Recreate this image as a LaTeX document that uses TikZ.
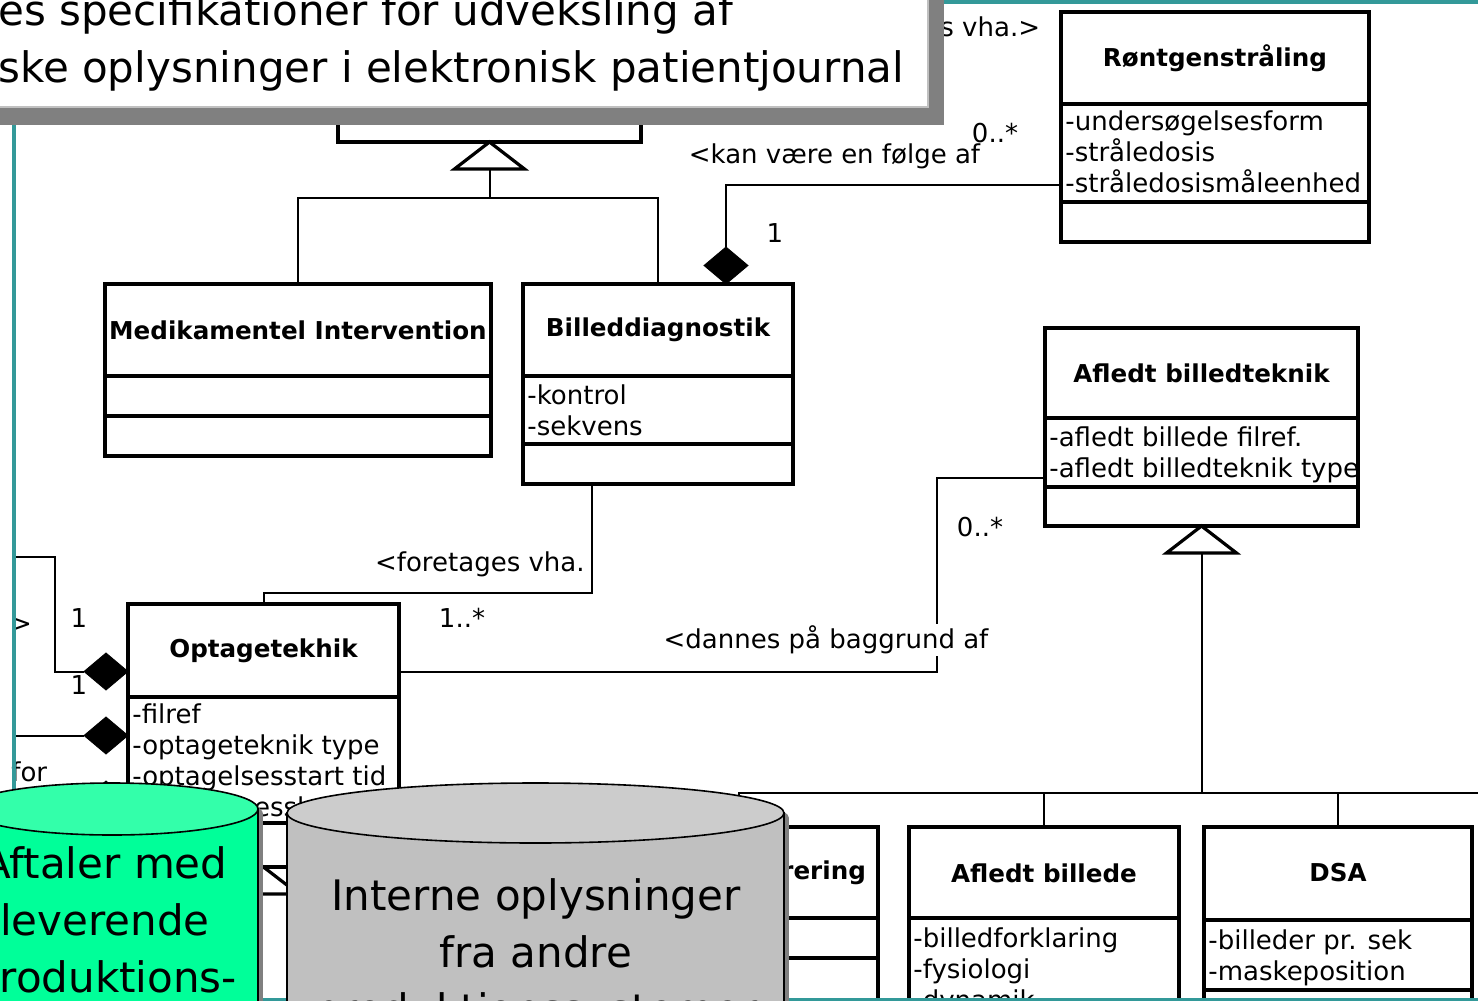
\documentclass[tikz,border=0pt]{standalone}
\usepackage{fontspec}
\setmainfont{DejaVu Sans}
\usetikzlibrary{shapes.geometric}
\definecolor{kant}{RGB}{51,153,153}
\definecolor{dbgroen}{RGB}{0,255,153}
\definecolor{dbgroentop}{RGB}{51,255,170}
\definecolor{dbgraa}{RGB}{192,192,192}
\definecolor{dbgraatop}{RGB}{204,204,204}
\definecolor{skygge}{RGB}{128,128,128}

\tikzset{
  klasse/.style={draw, line width=1.6pt, anchor=north west, inner sep=0pt, outer sep=0pt, fill=white},
  skille/.style={line width=1.6pt},
  navn/.style={font=\bfseries\fontsize{12.3}{14}\selectfont},
  attr/.style={anchor=north west, inner sep=0pt, align=left, font=\fontsize{13}{15.5}\selectfont},
  rolle/.style={font=\fontsize{13}{15}\selectfont, inner sep=1pt},
  forb/.style={line width=1pt},
  arv/.style={line width=1.6pt, fill=white, line join=miter},
  komp/.style={diamond, fill=black, draw=black, inner sep=0pt, outer sep=0pt, minimum width=22pt, minimum height=18.5pt},
  stor/.style={font=\fontsize{21}{28.5}\selectfont, inner sep=0pt},
}

\begin{document}
\begin{tikzpicture}[x=0.5pt, y=-0.5pt]
%\draw[help lines, color=gray!30] (0,0) grid[step=50] (1478,1001);
\useasboundingbox (0,0) rectangle (1478,1001);

% klasser
\node[klasse, minimum width=151.5pt, minimum height=101pt] (top) at (338,-60) {};
\node[klasse, minimum width=193pt, minimum height=86pt] (medik) at (105,284) {};
\draw[skille] ([yshift=-46pt]medik.north west) -- ([yshift=-46pt]medik.north east);
\draw[skille] ([yshift=-66pt]medik.north west) -- ([yshift=-66pt]medik.north east);
\node[navn] (medik-navn) at ([yshift=-23pt]medik.north) {Medikamentel Intervention};

\node[klasse, minimum width=135pt, minimum height=100pt] (billed) at (523,284) {};
\draw[skille] ([yshift=-46pt]billed.north west) -- ([yshift=-46pt]billed.north east);
\draw[skille] ([yshift=-80pt]billed.north west) -- ([yshift=-80pt]billed.north east);
\node[navn] (billed-navn) at ([yshift=-23pt]billed.north) {Billeddiagnostik};
\node[attr] (billed-attr) at ([xshift=2pt, yshift=-50pt]billed.north west) {-kontrol\\-sekvens};

\node[klasse, minimum width=154pt, minimum height=115pt] (rtg) at (1061,12) {};
\draw[skille] ([yshift=-46pt]rtg.north west) -- ([yshift=-46pt]rtg.north east);
\draw[skille] ([yshift=-95pt]rtg.north west) -- ([yshift=-95pt]rtg.north east);
\node[navn] (rtg-navn) at ([yshift=-23pt]rtg.north) {Røntgenstråling};
\node[attr] (rtg-attr) at ([xshift=2pt, yshift=-49pt]rtg.north west) {-undersøgelsesform\\-stråledosis\\-stråledosismåleenhed};

\node[klasse, minimum width=156.5pt, minimum height=99pt] (afltek) at (1045,328) {};
\draw[skille] ([yshift=-45pt]afltek.north west) -- ([yshift=-45pt]afltek.north east);
\draw[skille] ([yshift=-79.5pt]afltek.north west) -- ([yshift=-79.5pt]afltek.north east);
\node[navn] (afltek-navn) at ([yshift=-22.5pt]afltek.north) {Afledt billedteknik};
\node[attr] (afltek-attr) at ([xshift=2pt, yshift=-49pt]afltek.north west) {-afledt billede filref.\\-afledt billedteknik type};

\node[klasse, minimum width=135.5pt, minimum height=131.5pt] (optag) at (128,604) {};
\draw[skille] ([yshift=-46.5pt]optag.north west) -- ([yshift=-46.5pt]optag.north east);
\draw[skille] ([yshift=-109.5pt]optag.north west) -- ([yshift=-109.5pt]optag.north east);
\node[navn] (optag-navn) at ([yshift=-23.25pt]optag.north) {Optagetekhik};
\node[attr] (optag-attr) at ([xshift=2pt, yshift=-49.5pt]optag.north west) {-filref\\-optageteknik type\\-optagelsesstart tid\\-optagelsesslut tid};

\node[klasse, minimum width=139pt, minimum height=116.5pt] (rering) at (600,827) {};
\draw[skille] ([yshift=-45.5pt]rering.north west) -- ([yshift=-45.5pt]rering.north east);
\draw[skille] ([yshift=-65.5pt]rering.north west) -- ([yshift=-65.5pt]rering.north east);
\node[navn, anchor=east] (rering-navn) at ([xshift=-2.5pt, yshift=-23pt]rering.north east) {rering};

\node[klasse, minimum width=135pt, minimum height=116.5pt] (aflbil) at (909,827) {};
\draw[skille] ([yshift=-45.5pt]aflbil.north west) -- ([yshift=-45.5pt]aflbil.north east);
\node[navn] (aflbil-navn) at ([yshift=-23pt]aflbil.north) {Afledt billede};
\node[attr] (aflbil-attr) at ([xshift=2pt, yshift=-50pt]aflbil.north west) {-billedforklaring\\-fysiologi\\-dynamik};

\node[klasse, minimum width=134pt, minimum height=116.5pt] (dsa) at (1204,827) {};
\draw[skille] ([yshift=-46.5pt]dsa.north west) -- ([yshift=-46.5pt]dsa.north east);
\draw[skille] ([yshift=-81.5pt]dsa.north west) -- ([yshift=-81.5pt]dsa.north east);
\node[navn] (dsa-navn) at ([yshift=-23pt]dsa.north) {DSA};
\node[attr] (dsa-attr) at ([xshift=2pt, yshift=-51pt]dsa.north west) {-billeder pr. sek\\-maskeposition};

% generalisering
\draw[arv] (top.south) -- ++(-35,27) -- ++(70,0) -- cycle;
\coordinate (g1) at ([yshift=-13.5pt]top.south);
\draw[forb] (g1) -- ++(0,29) -| (medik.north);
\draw[forb] (g1) -- ++(0,29) -| (billed.north);

\draw[arv] (afltek.south) -- ++(-35,27) -- ++(70,0) -- cycle;
\coordinate (g2) at ([yshift=-13.5pt]afltek.south);
\draw[forb] (g2) -- ++(0,240) coordinate (bus);
\draw[forb] (bus) -| (aflbil.north);
\draw[forb] (bus) -| (dsa.north);
\draw[forb] (bus) -| (rering.north);
\draw[forb] (bus) -- ++(300,0);

\draw[arv] (optag.south) -- ++(-35,27) -- ++(70,0) -- cycle;

% associationer
\node[komp, anchor=south] (dia1) at ([xshift=34pt]billed.north) {};
\draw[forb] ([yshift=-29pt]rtg.west) -| (dia1.north);
\node[rolle] (l1) at (995,133) {0..*};
\node[rolle] (l2) at (834.5,156) {<kan være en følge af};
\node[rolle] (l3) at (775,233) {1};
\node[rolle, anchor=west] (l4) at (938,27) {s vha.>};

\draw[forb] ([xshift=-33pt]billed.south) -- ++(0,109) -| (optag.north);
\node[rolle, anchor=east] (l5) at (587,564) {<foretages vha.};
\node[rolle] (l6) at (462,618) {1..*};

\draw[forb] ([yshift=32pt]optag.east) -| ([xshift=-54pt, yshift=-25.5pt]afltek.west) -- ([yshift=-25.5pt]afltek.west);
\node[rolle, fill=white] (l7) at (826,640) {<dannes på baggrund af};
\node[rolle] (l8) at (980,527) {0..*};

\node[komp, anchor=east] (dia2) at ([yshift=32pt]optag.west) {};
\node[komp, anchor=east] (dia3) at (optag.west) {};
\node[komp, anchor=east] (dia4) at ([yshift=-32pt]optag.west) {};
\coordinate (v1) at (13.5,557);
\coordinate (v2) at (13.5,735.5);
\coordinate (v3) at (13.5,799.5);
\draw[forb] (v1) -- ++(41,0) |- (dia2.west);
\draw[forb] (v2) -- (dia3.west);
\draw[forb] (v3) -- (dia4.west);
\node[rolle] (l9) at (21,625) {>};
\node[rolle] (l10) at (79,618) {1};
\node[rolle] (l11) at (79,685) {1};
\node[rolle, anchor=west] (l12) at (9,772) {for};

% ramme
\draw[kant, line width=2pt] (13.5,2) rectangle (1520,999.5);

% databaser
\fill[skygge] (-29,814) rectangle (263,1100);
\fill[skygge] (117,814) ellipse [x radius=73pt, y radius=13pt];
\filldraw[fill=dbgroen, line width=0.8pt] (-34,809) rectangle (258,1100);
\filldraw[fill=dbgroentop, line width=0.8pt] (112,809) ellipse [x radius=73pt, y radius=13pt];
\node[stor, align=center, anchor=north] (aftaler) at (105,846) {Aftaler med\\leverende\\produktions-};

\fill[skygge] (292,818) rectangle (789,1100);
\fill[skygge] (540.5,818) ellipse [x radius=124.25pt, y radius=15pt];
\filldraw[fill=dbgraa, line width=0.8pt] (287,813) rectangle (784,1100);
\filldraw[fill=dbgraatop, line width=0.8pt] (535.5,813) ellipse [x radius=124.25pt, y radius=15pt];
\node[stor, align=center, anchor=north] (interne) at (536,878) {Interne oplysninger\\fra andre\\produktionssystemer};

% titel
\fill[skygge] (-20,-20) rectangle (944,125);
\filldraw[fill=white, draw=dbgraa, line width=1pt] (-20,-20) rectangle (928,107);
\node[stor, align=left, anchor=north west] (titel) at (-2,-7) {es specifikationer for udveksling af\\ske oplysninger i elektronisk patientjournal};
\end{tikzpicture}
\end{document}
